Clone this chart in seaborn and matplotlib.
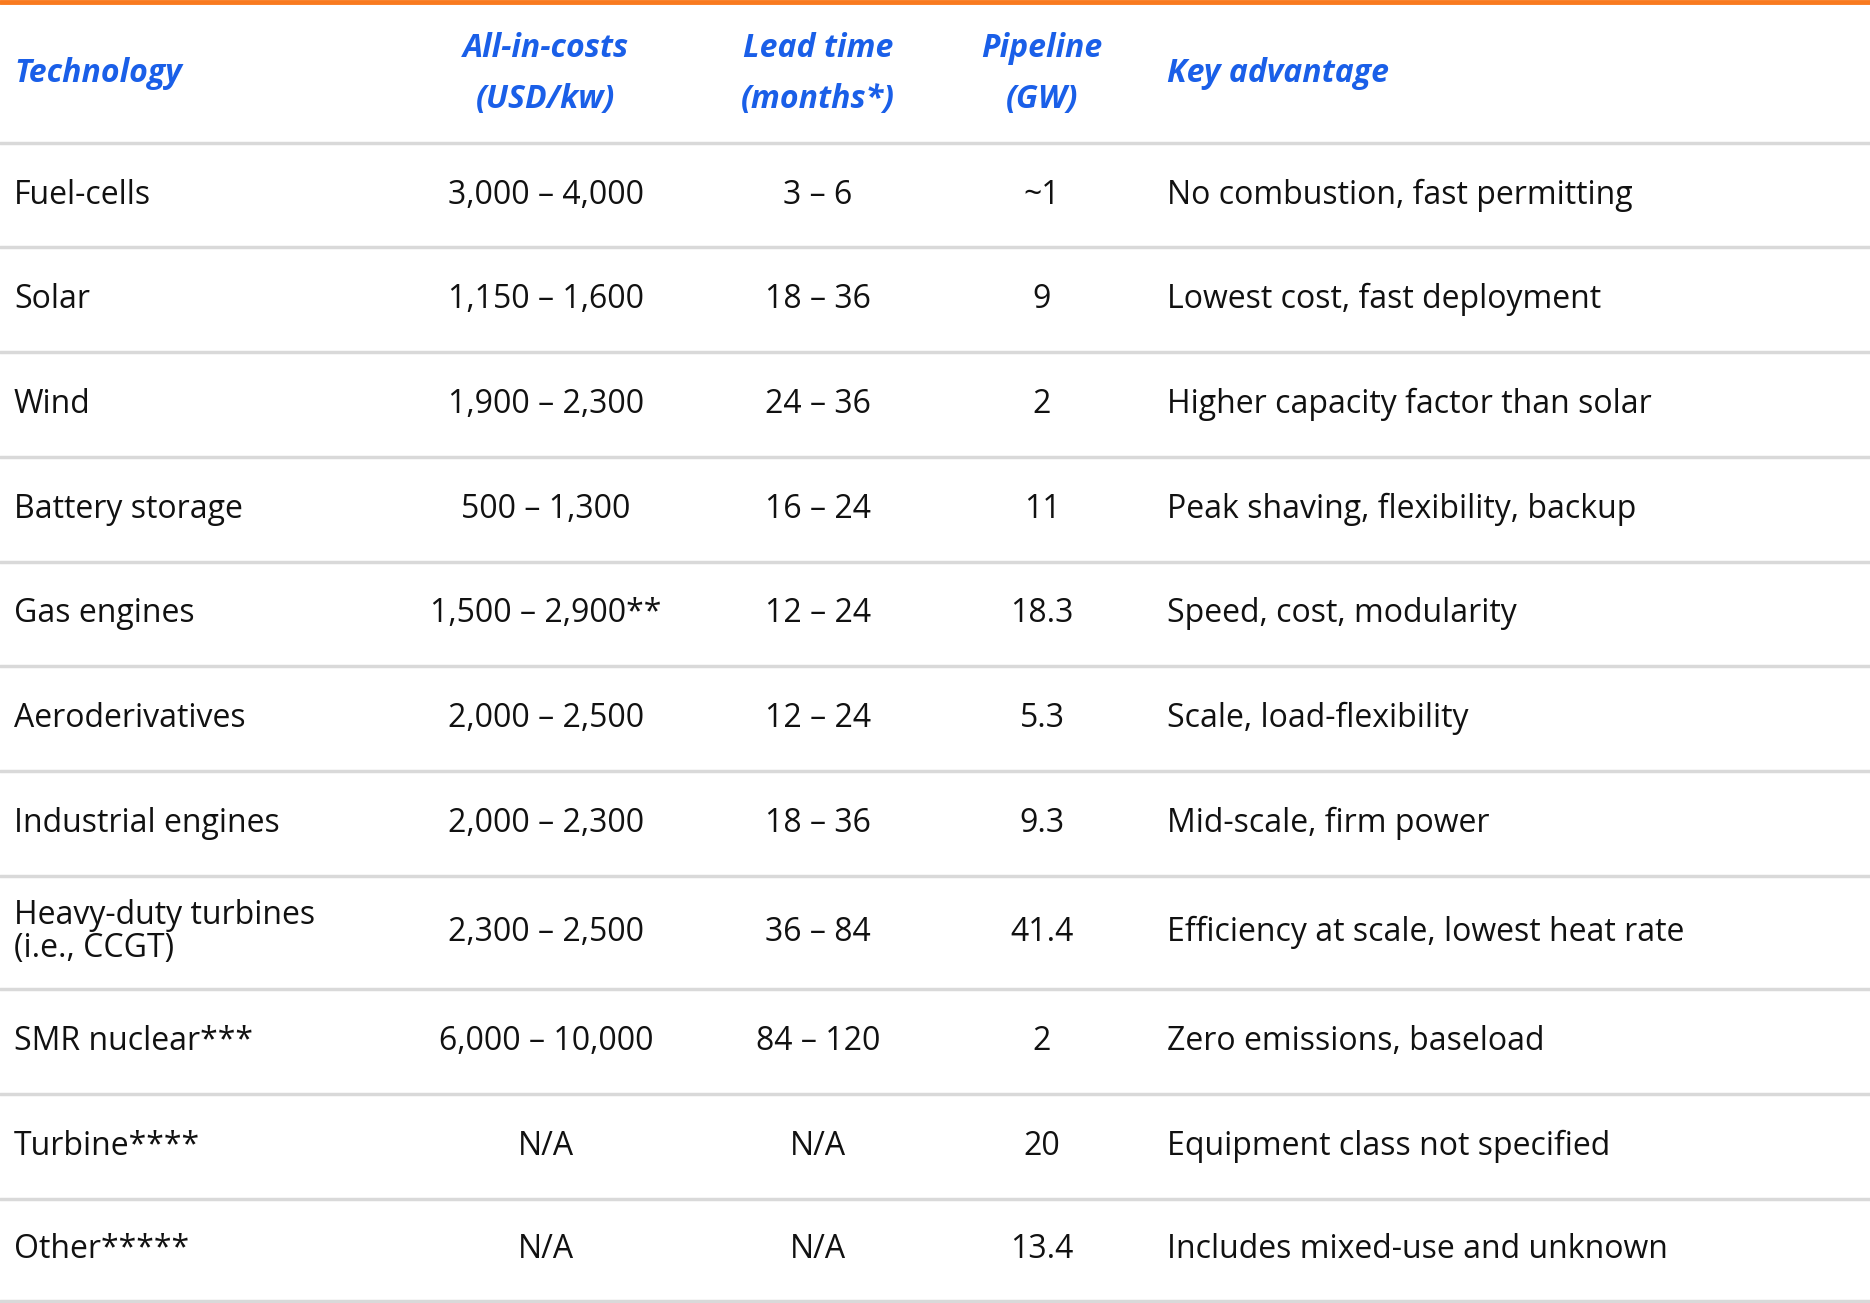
import matplotlib.pyplot as plt
import seaborn as sns

technology = ["Fuel-cells", "Solar", "Wind", "Battery storage", "Gas engines",
              "Aeroderivatives", "Industrial engines", "Heavy-duty turbines\n(i.e., CCGT)",
              "SMR nuclear***", "Turbine****", "Other*****"]
costs = ["3,000 – 4,000", "1,150 – 1,600", "1,900 – 2,300", "500 – 1,300", "1,500 – 2,900**",
         "2,000 – 2,500", "2,000 – 2,300", "2,300 – 2,500", "6,000 – 10,000", "N/A", "N/A"]
lead_time = ["3 – 6", "18 – 36", "24 – 36", "16 – 24", "12 – 24", "12 – 24", "18 – 36",
             "36 – 84", "84 – 120", "N/A", "N/A"]
pipeline = ["~1", "9", "2", "11", "18.3", "5.3", "9.3", "41.4", "2", "20", "13.4"]
advantage = ["No combustion, fast permitting", "Lowest cost, fast deployment",
             "Higher capacity factor than solar", "Peak shaving, flexibility, backup",
             "Speed, cost, modularity", "Scale, load-flexibility", "Mid-scale, firm power",
             "Efficiency at scale, lowest heat rate", "Zero emissions, baseload",
             "Equipment class not specified", "Includes mixed-use and unknown"]
headers = ["Technology", "All-in-costs\n(USD/kw)", "Lead time\n(months*)", "Pipeline\n(GW)", "Key advantage"]

sns.set_theme(style="white")
plt.rcParams['font.family'] = ['Open Sans', 'DejaVu Sans']

W, H = 1870, 1303
fig = plt.figure(figsize=(W / 100, H / 100), dpi=100)
ax = fig.add_axes([0, 0, 1, 1])
ax.set_xlim(0, W)
ax.set_ylim(H, 0)
ax.axis("off")

blue = "#1a5fe8"
col_x = [14, 546, 818, 1042, 1167]
col_ha = ["left", "center", "center", "center", "left"]

# row boundaries (pixels)
bounds = [143, 247, 352, 457, 562, 666, 771, 876, 989, 1094, 1199, 1301]

ax.axhline(2, color="#f97a1f", lw=3.5)
for b in bounds:
    ax.axhline(b, color="#d9d9d9", lw=2.5)

for x, ha, h in zip(col_x, col_ha, headers):
    ax.text(x, 74, h, ha=ha, va="center", color=blue, fontsize=23,
            fontweight="bold", fontstyle="italic", linespacing=1.75)

cols = [technology, costs, lead_time, pipeline, advantage]
for i in range(len(technology)):
    yc = (bounds[i] + bounds[i + 1]) / 2
    for x, ha, col in zip(col_x, col_ha, cols):
        ax.text(x, yc, col[i], ha=ha, va="center", color="#111111",
                fontsize=23, linespacing=1.0)

fig.savefig("out.png", dpi=100)
